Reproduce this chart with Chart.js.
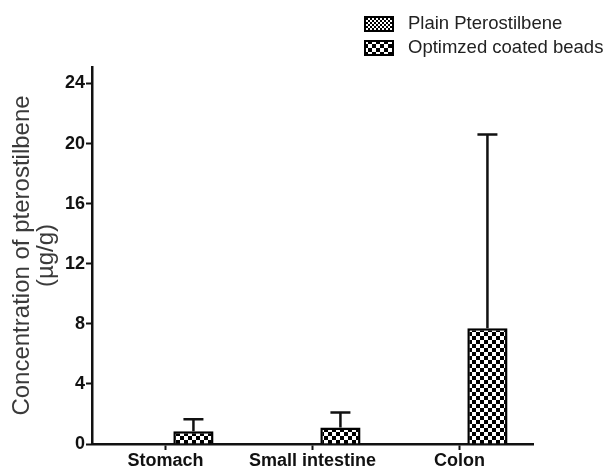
<!DOCTYPE html>
<html>
<head>
<meta charset="utf-8">
<script src="https://cdn.jsdelivr.net/npm/chart.js@4/dist/chart.umd.min.js"></script>
<style>
  html, body { margin: 0; padding: 0; background: #fff; }
  #wrap { width: 616px; height: 472px; }
</style>
</head>
<body>
<div id="wrap"><canvas id="chart" width="616" height="472"></canvas></div>
<script>
// data
const categories = ['Stomach', 'Small intestine', 'Colon'];
const seriesNames = ['Plain Pterostilbene', 'Optimzed coated beads'];
const plainValues = [0, 0, 0];
const plainErrors = [0, 0, 0];
const beadValues = [0.85, 1.1, 7.7];
const beadErrors = [0.8, 1.0, 12.9];
const yTicks = [0, 4, 8, 12, 16, 20, 24];

// checkerboard fills
function makePattern(cell) {
    const c = document.createElement('canvas');
    c.width = cell * 2;
    c.height = cell * 2;
    const g = c.getContext('2d');
    g.fillStyle = '#fff';
    g.fillRect(0, 0, cell * 2, cell * 2);
    g.fillStyle = '#000';
    g.fillRect(0, 0, cell, cell);
    g.fillRect(cell, cell, cell, cell);
    return g.createPattern(c, 'repeat');
}
const ctx = document.querySelector('#chart').getContext('2d');
const plainFill = makePattern(2);
const beadFill = makePattern(4);

// upper error bars
const errorBars = {
    id: 'errorBars',
    afterDatasetsDraw(chart) {
        const g = chart.ctx;
        const y = chart.scales.y;
        chart.data.datasets.forEach((ds, i) => {
            const meta = chart.getDatasetMeta(i);
            meta.data.forEach((bar, j) => {
                const err = ds.errors[j];
                if (!err) return;
                const top = y.getPixelForValue(ds.data[j] + err);
                g.save();
                g.strokeStyle = '#111';
                g.lineWidth = 2.5;
                g.beginPath();
                g.moveTo(bar.x, bar.y);
                g.lineTo(bar.x, top);
                g.moveTo(bar.x - 10, top);
                g.lineTo(bar.x + 10, top);
                g.stroke();
                g.restore();
            });
        });
    }
};

// legend in the top right corner, stacked
const cornerLegend = {
    id: 'cornerLegend',
    afterDraw(chart) {
        const g = chart.ctx;
        g.save();
        chart.data.datasets.forEach((ds, i) => {
            const top = 17 + i * 24;
            g.fillStyle = ds.backgroundColor;
            g.fillRect(365, top, 28, 14);
            g.strokeStyle = '#000';
            g.lineWidth = 2;
            g.strokeRect(365, top, 28, 14);
            g.fillStyle = '#222';
            g.font = '18.5px "Liberation Sans", Arial, sans-serif';
            g.textBaseline = 'middle';
            g.fillText(ds.label, 408, top + 7);
        });
        g.restore();
    }
};

new Chart(ctx, {
    type: 'bar',
    data: {
        labels: categories,
        datasets: [
            {
                label: seriesNames[0],
                data: plainValues,
                errors: plainErrors,
                backgroundColor: plainFill,
                borderColor: '#000',
                borderWidth: 2.5
            },
            {
                label: seriesNames[1],
                data: beadValues,
                errors: beadErrors,
                backgroundColor: beadFill,
                borderColor: '#000',
                borderWidth: 2.5
            }
        ]
    },
    options: {
        responsive: false,
        animation: false,
        layout: { padding: { top: 67, right: 83, bottom: 0, left: 0 } },
        datasets: {
            bar: { categoryPercentage: 0.76, barPercentage: 0.72 }
        },
        plugins: {
            legend: { display: false },
            tooltip: { enabled: false }
        },
        scales: {
            x: {
                grid: {
                    offset: false,
                    drawOnChartArea: false,
                    drawTicks: true,
                    tickLength: 6,
                    tickWidth: 2,
                    color: '#111'
                },
                border: { color: '#111', width: 2.5 },
                ticks: {
                    color: '#111',
                    padding: 0,
                    font: { family: '"Liberation Sans", Arial, sans-serif', size: 18, weight: 'bold' }
                },
                afterFit(s) { s.height = 28; }
            },
            y: {
                min: 0,
                max: 25.1,
                afterBuildTicks(s) { s.ticks = yTicks.map(v => ({ value: v })); },
                grid: {
                    drawOnChartArea: false,
                    drawTicks: true,
                    tickLength: 6,
                    tickWidth: 2,
                    color: '#111'
                },
                border: { color: '#111', width: 2.5 },
                ticks: {
                    color: '#111',
                    padding: 1,
                    font: { family: '"Liberation Sans", Arial, sans-serif', size: 18, weight: 'bold' }
                },
                title: {
                    display: true,
                    text: ['Concentration of pterostilbene', '(\u00b5g/g)'],
                    color: '#3a3a3a',
                    padding: { top: 11, bottom: 0 },
                    font: { family: '"Liberation Sans", Arial, sans-serif', size: 24, lineHeight: 0.98 }
                },
                afterFit(s) { s.width = 92; }
            }
        }
    },
    plugins: [errorBars, cornerLegend]
});
</script>
</body>
</html>
